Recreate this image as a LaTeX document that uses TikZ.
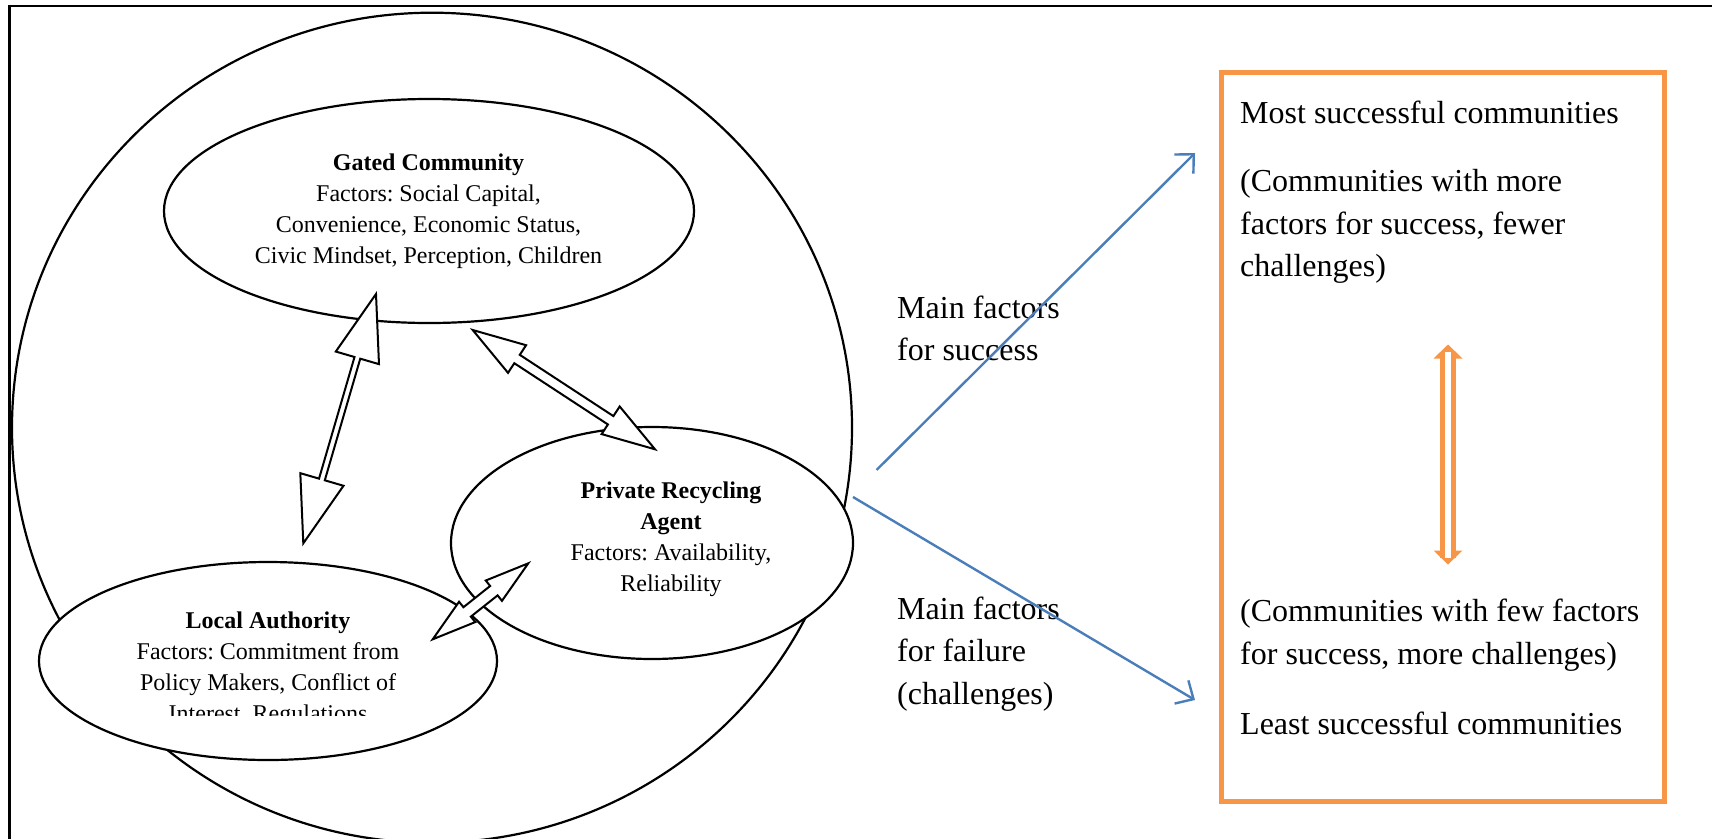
\documentclass[tikz,border=0pt]{standalone}
\usepackage{fontspec}
\setmainfont{Liberation Serif}
\usetikzlibrary{calc,arrows.meta,shapes.geometric}
\frenchspacing

\definecolor{accentorange}{HTML}{F79646}
\definecolor{accentblue}{HTML}{4A7EBB}

% double-headed hollow block arrow between two tips:
% #1 tip, #2 tip, #3 head length, #4 head half-width, #5 shaft half-width
\newcommand\blockarrow[5]{%
  \path ($(#1)!#3!(#2)$) coordinate (ba1)
        ($(#2)!#3!(#1)$) coordinate (ba2);
  \filldraw[blockarrow]
    (#1) -- ($(ba1)!#4!90:(#2)$) -- ($(ba1)!#5!90:(#2)$)
    -- ($(ba2)!#5!-90:(#1)$) -- ($(ba2)!#4!-90:(#1)$)
    -- (#2) -- ($(ba2)!#4!90:(#1)$) -- ($(ba2)!#5!90:(#1)$)
    -- ($(ba1)!#5!-90:(#2)$) -- ($(ba1)!#4!-90:(#2)$) -- cycle;
}

\tikzset{
  actor/.style={ellipse, draw=black, fill=white, line width=2.2pt, inner sep=0pt},
  actortext/.style={align=center, inner sep=0pt, font=\fontsize{24}{31}\selectfont},
  blockarrow/.style={draw=black, fill=white, line width=2pt, line join=miter},
  bigtext/.style={align=left, inner sep=0pt, font=\fontsize{32}{42.5}\selectfont},
  flow/.style={accentblue, line width=2.4pt, -{Straight Barb[length=14pt,width=27pt]}},
}

\begin{document}
\begin{tikzpicture}[x=1pt, y=-1pt]
\useasboundingbox (0,0) rectangle (1712,838);
\clip (0,0) rectangle (1712,838);

% page frame
\draw[line width=2.7pt] (9.3,6) rectangle (1740,860);

% enclosing system boundary
\node[ellipse, draw=black, line width=2.2pt, minimum width=840pt, minimum height=830pt, inner sep=0pt] (region) at (432,427.7) {};

% actors
\node[actor, minimum width=530pt, minimum height=224pt] (gc) at (429,211) {};
\node[actor, minimum width=402pt, minimum height=232pt] (pra) at (652,543) {};
\node[actor, minimum width=458pt, minimum height=198pt] (la) at (268,661) {};

% the anchor 'base' of a multi-line node is the baseline of its last line
\node[actortext, anchor=base] (gctext) at (428.5,263)
  {\textbf{Gated Community}\\Factors: Social Capital,\\Convenience, Economic Status,\\Civic Mindset, Perception, Children};
\node[actortext, anchor=base] (pratext) at (671,591.7)
  {\textbf{Private Recycling}\\\textbf{Agent}\\Factors: Availability,\\Reliability};
\begin{scope}
  \clip (0,0) rectangle (1712,715);
  \node[actortext, anchor=base] (latext) at (268,721)
    {\textbf{Local Authority}\\Factors: Commitment from\\Policy Makers, Conflict of\\Interest, Regulations};
\end{scope}

% interactions between actors
\coordinate (gcla1) at (376,294);
\coordinate (gcla2) at (303.3,543.3);
\coordinate (gcpra1) at (472.7,330);
\coordinate (gcpra2) at (655,449.3);
\coordinate (lapra1) at (528.3,563.3);
\coordinate (lapra2) at (432.7,639.3);
\blockarrow{gcla1}{gcla2}{66.5pt}{22.5pt}{3pt}
\blockarrow{gcpra1}{gcpra2}{53pt}{16.5pt}{5pt}
\blockarrow{lapra1}{lapra2}{44pt}{13pt}{6pt}

% outcome labels
\node[bigtext, anchor=base west] (success) at (897,360.6) {Main factors\\for success};
\node[bigtext, anchor=base west] (failure) at (897,704) {Main factors\\for failure\\(challenges)};

% outcome box
\node[draw=accentorange, line width=5pt, minimum width=443pt, minimum height=728.5pt, inner sep=0pt, anchor=north west] (outcome) at (1218.5,70) {};
\node[bigtext, anchor=base west] (most) at (1240,123.3) {Most successful communities};
\node[bigtext, anchor=base west] (moredesc) at (1240,276.7) {(Communities with more\\factors for success, fewer\\challenges)};
\node[bigtext, anchor=base west] (fewdesc) at (1240,664) {(Communities with few factors\\for success, more challenges)};
\node[bigtext, anchor=base west] (least) at (1240,734) {Least successful communities};

% flows from the system to the outcomes
\coordinate (upstart) at (876.5,470);
\coordinate (upend) at (1195,153);
\coordinate (downstart) at (853,497);
\coordinate (downend) at (1195,700);
\draw[flow] (upstart) -- (upend);
\draw[flow] (downstart) -- (downend);

% ranking scale
\coordinate (scaletop) at (1448,344.5);
\coordinate (scalebot) at (1448,564.5);
\fill[accentorange] (scaletop) -- ++(-14.5,14) -- ++(29,0) -- cycle;
\fill[accentorange] (scalebot) -- ++(-14.5,-14) -- ++(29,0) -- cycle;
\draw[accentorange, line width=5pt, double=white, double distance=5.3pt]
  ($(scaletop)+(0,7)$) -- ($(scalebot)+(0,-7)$);
\end{tikzpicture}
\end{document}
